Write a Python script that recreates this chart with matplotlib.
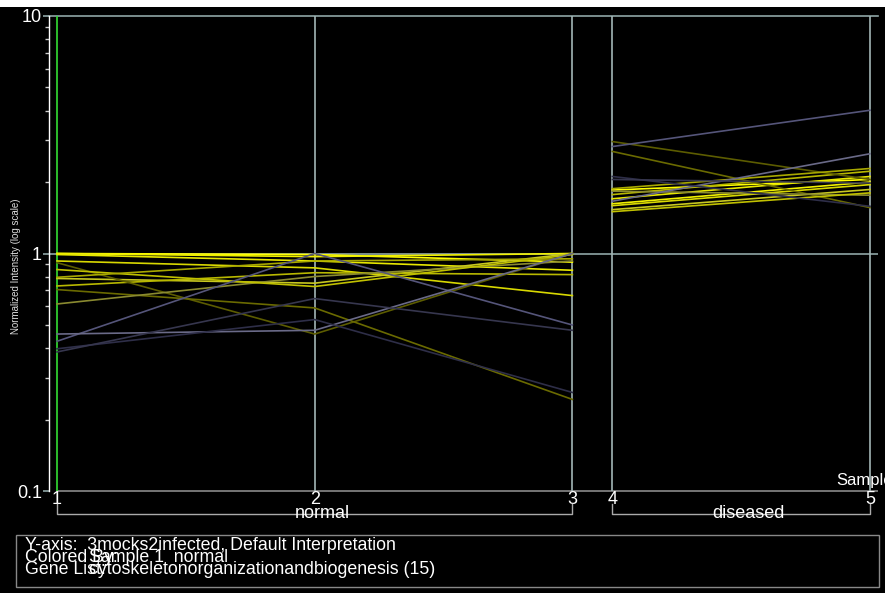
import numpy as np
import matplotlib
matplotlib.use("Agg")
import matplotlib.pyplot as plt
from matplotlib.patches import Rectangle

plt.rcParams["font.family"] = ["Liberation Sans", "DejaVu Sans"]

# ---- data -------------------------------------------------------------
samples = ["1", "2", "3", "4", "5"]
groups = ["normal", "normal", "normal", "diseased", "diseased"]
group_names = ["normal", "diseased"]

# normalized intensity per gene, samples 1..5
g01 = [1.00, 0.99, 0.92, 1.85, 2.05]
g02 = [1.00, 0.97, 1.00, 1.62, 2.00]
g03 = [0.99, 0.93, 0.85, 1.70, 2.11]
g04 = [0.93, 0.87, 0.665, 1.59, 1.95]
g05 = [0.785, 0.75, 1.00, 1.53, 1.86]
g06 = [0.73, 0.83, 0.815, 1.77, 2.22]
g07 = [0.915, 0.458, 1.00, 2.96, 2.05]
g08 = [0.705, 0.59, 0.243, 2.69, 1.56]
g09 = [0.613, 0.80, 0.93, 1.83, 1.76]
g10 = [0.856, 0.726, 0.99, 1.50, 1.80]
g11 = [0.794, 0.93, 0.95, 1.875, 2.28]
g12 = [0.427, 1.00, 0.50, 2.82, 4.01]
g13 = [0.458, 0.475, 1.00, 1.66, 2.63]
g14 = [0.397, 0.527, 0.26, 2.11, 1.58]
g15 = [0.385, 0.646, 0.475, 2.05, 1.98]
genes = [g01, g02, g03, g04, g05, g06, g07, g08, g09, g10, g11, g12, g13, g14, g15]

gene_colors = ["#ffff00", "#f0f000", "#e8e800", "#d8d800", "#c8c820", "#b8b800",
               "#5c5c00", "#6a6a00", "#8a8a30", "#c0c000", "#a8a800",
               "#55557a", "#6a6a88", "#2e2e48", "#36364e"]

# ---- layout ---------------------------------------------------------------
W, H = 885, 593
GAP = 0.155   # spacing between the last sample of one group and the next
grp_idx = np.array([group_names.index(g) for g in groups])
xpos = np.arange(1, len(samples) + 1) - (1 - GAP) * grp_idx
GRID = "#8fa6a6"
VGRID = "#a3b6b6"

fig = plt.figure(figsize=(W / 100, H / 100), dpi=100, facecolor="black")
fig.patches.append(Rectangle((0, 1 - 7 / H), 1, 7 / H, transform=fig.transFigure,
                             facecolor="white", edgecolor="none"))

ax = fig.add_axes([49 / W, 1 - 491 / H, (878 - 49) / W, (491 - 16) / H])
ax.set_facecolor("black")
ax.set_yscale("log")
ax.set_ylim(0.1, 10)
ax.set_xlim(xpos[0] - 8 / 257.5, xpos[-1] + 8 / 258)

for side in ("top", "right", "bottom"):
    ax.spines[side].set_visible(False)
ax.spines["left"].set_color("white")
ax.spines["left"].set_linewidth(1.0)

# grid
ax.axhline(10, color=GRID, lw=1.2, clip_on=False, zorder=1)
ax.axhline(1, color=GRID, lw=1.2, zorder=1)
ax.hlines(0.1, xpos[0], ax.get_xlim()[1], color="#8a8a8a", lw=1.2, clip_on=False, zorder=1)
for i, x in enumerate(xpos):
    ax.vlines(x, 0.1, 10, color="#33dd33" if i == 0 else VGRID, lw=1.2, zorder=1)

# gene profiles, one segment set per condition group
for vals, c in zip(genes, gene_colors):
    for gi in range(len(group_names)):
        idx = np.where(grp_idx == gi)[0]
        ax.plot(xpos[idx], np.array(vals)[idx], color=c, lw=1.2, zorder=3)

# y ticks
ax.set_yticks([0.1, 1, 10])
ax.set_yticklabels(["0.1", "1", "10"])
ax.tick_params(axis="y", which="major", colors=GRID, length=4, width=1.2,
               labelcolor="white", labelsize=13, pad=1)
ax.tick_params(axis="y", which="minor", colors="#cccccc", length=3, width=1)
ax.yaxis.set_minor_formatter(matplotlib.ticker.NullFormatter())

# x ticks = sample numbers
ax.set_xticks(xpos)
ax.set_xticklabels(samples)
ax.tick_params(axis="x", length=0, labelcolor="white", labelsize=13, pad=0)

# condition brackets
tr = ax.get_xaxis_transform()
yb, yt = -23 / 475, -13 / 475
for gi, name in enumerate(group_names):
    xs = xpos[grp_idx == gi]
    ax.plot([xs[0], xs[0], xs[-1], xs[-1]], [yt, yb, yb, yt], color="#aaaaaa",
            lw=1.0, transform=tr, clip_on=False)
    ax.text((xs[0] + xs[-1]) / 2 + 0.03, yb, name, color="white", fontsize=13,
            ha="center", va="center", transform=tr)

ax.text((836 - 49) / 829, 11 / 475, "Sample", color="white", fontsize=12,
        ha="left", va="center", transform=ax.transAxes, clip_on=False)

fig.text(16 / W, 1 - 266 / H, "Normalized Intensity (log scale)", rotation=90,
         color="#dddddd", fontsize=7, ha="center", va="center")

# info box
fig.patches.append(Rectangle((16 / W, 1 - 587 / H), 863 / W, 52 / H,
                             transform=fig.transFigure, facecolor="none",
                             edgecolor="#888888", lw=1))
info = dict(color="white", fontsize=12.8, ha="left", va="center")
fig.text(25 / W, 1 - 545 / H, "Y-axis:  3mocks2infected, Default Interpretation", **info)
fig.text(25 / W, 1 - 557 / H, "Colored By:", **info)
fig.text(89 / W, 1 - 557 / H, "Sample 1  normal", **info)
fig.text(25 / W, 1 - 570 / H, "Gene List:", **info)
fig.text(89 / W, 1 - 570 / H, "cytoskeletonorganizationandbiogenesis (15)", **info)

fig.savefig("out.png", dpi=100, facecolor="black")
